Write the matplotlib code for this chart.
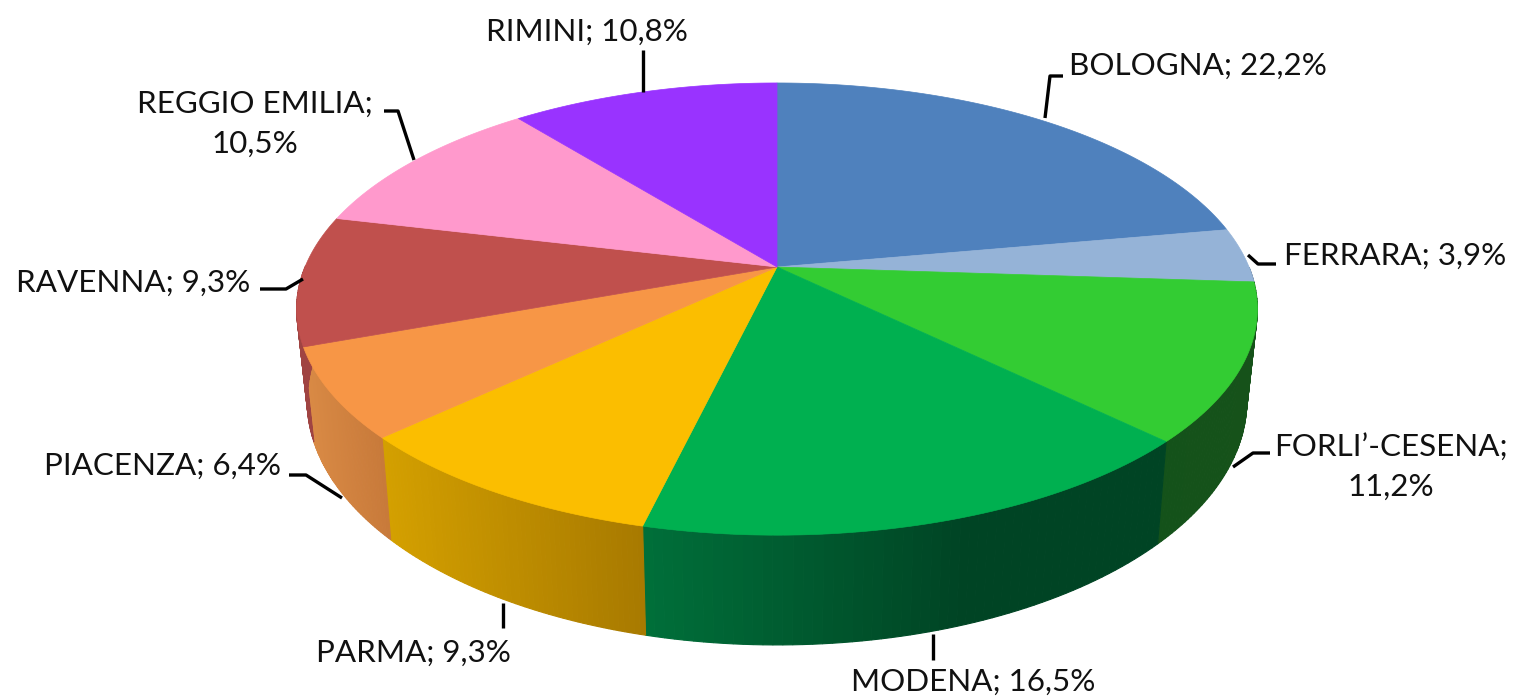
import numpy as np
import matplotlib
matplotlib.use("Agg")
import matplotlib.pyplot as plt
from matplotlib.colors import to_rgb

# dati
province = ["BOLOGNA", "FERRARA", "FORLI'-CESENA", "MODENA", "PARMA",
            "PIACENZA", "RAVENNA", "REGGIO EMILIA", "RIMINI"]
valori = [22.2, 3.9, 11.2, 16.5, 9.3, 6.4, 9.3, 10.5, 10.8]
etichette = ["BOLOGNA; 22,2%", "FERRARA; 3,9%", "FORLI’-CESENA;\n11,2%", "MODENA; 16,5%",
             "PARMA; 9,3%", "PIACENZA; 6,4%", "RAVENNA; 9,3%", "REGGIO EMILIA;\n10,5%",
             "RIMINI; 10,8%"]

# colori: faccia superiore, parete sinistra, parete destra
colori = ["#4f81bd", "#95b3d7", "#33cc33", "#00b050", "#fbbe00",
          "#f79646", "#c0504d", "#ff99cc", "#9933ff"]
pareti_sx = ["#3a5f8a", "#6d84a0", "#14521a", "#00703a", "#d4a000",
             "#d98a45", "#a04442", "#c070a0", "#7020c0"]
pareti_dx = ["#3a5f8a", "#6d84a0", "#16521a", "#004424", "#a87a00",
             "#c87a3a", "#a04442", "#c070a0", "#7020c0"]

pos_testo = [(1198, 66), (1395, 256), (1391, 467), (973, 682), (413, 653),
             (163, 466), (133, 283), (255, 124), (587, 32)]
guide = [[(1045, 118), (1050, 76), (1063, 76)],
         [(1248, 255), (1258, 264), (1276, 264)],
         [(1233, 467), (1253, 453), (1270, 453)],
         [(933, 634), (933, 660)],
         [(503, 603), (503, 628)],
         [(342, 498), (306, 475), (289, 475)],
         [(303, 279), (286, 289), (260, 289)],
         [(414, 160), (398, 111), (384, 111)],
         [(643, 92), (643, 50)]]

# prospettiva del disco
CX, CY = 777, 267
A, B, K = 472, 168.6, -0.186


def sopra(t):
    u, v = np.sin(t), -np.cos(t)
    d = 1 + K * v
    return CX + A * u / d, (CY + B * v) / d


def sotto(x, y):
    return CX + (x - CX) * 0.978, 1.08 * y + 67


fig = plt.figure(figsize=(15.14, 6.98), dpi=100)
ax = fig.add_axes([0, 0, 1, 1])
ax.set_xlim(0, 1514)
ax.set_ylim(698, 0)
ax.axis("off")

plt.rcParams["font.family"] = ["Lato", "DejaVu Sans"]

cum = np.cumsum([0] + valori) / sum(valori) * 2 * np.pi

# pareti laterali, solo la meta anteriore
for i in range(len(valori)):
    t = np.linspace(cum[i], cum[i + 1], 60)
    x, y = sopra(t)
    xb, yb = sotto(x, y)
    c0, c1 = np.array(to_rgb(pareti_sx[i])), np.array(to_rgb(pareti_dx[i]))
    for j in range(len(t) - 1):
        if t[j] < np.pi / 2 or t[j] > 3 * np.pi / 2:
            continue
        s = (x[j] - x.min()) / max(x.max() - x.min(), 1)
        if province[i] == "MODENA":
            s = min(s * 1.6, 1)  # qui il verde arriva prima allo scuro
        col = c0 + (c1 - c0) * s
        ax.fill([x[j], x[j + 1], xb[j + 1], xb[j]], [y[j], y[j + 1], yb[j + 1], yb[j]],
                color=col, lw=0.8, zorder=2)

# faccia superiore
for i in range(len(valori)):
    t = np.linspace(cum[i], cum[i + 1], 80)
    x, y = sopra(t)
    ax.fill(np.r_[CX, x], np.r_[CY, y], color=colori[i], lw=0.5, zorder=3)

# guide ed etichette
for g in guide:
    g = np.array(g)
    ax.plot(g[:, 0], g[:, 1], color="black", lw=2.4, zorder=4, solid_capstyle="butt")

for s, (xt, yt) in zip(etichette, pos_testo):
    ax.text(xt, yt, s, ha="center", va="center", fontsize=22.6, color="#111111",
            linespacing=1.5, zorder=5)

fig.savefig("out.png", dpi=100)
